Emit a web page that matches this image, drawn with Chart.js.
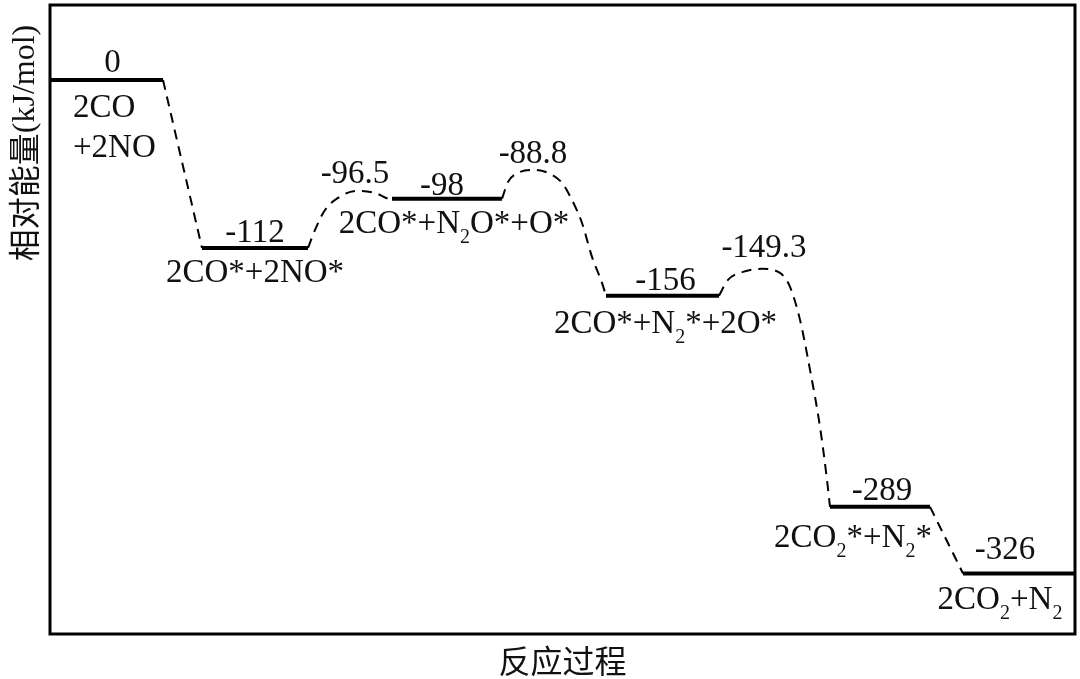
<!DOCTYPE html>
<html>
<head>
<meta charset="utf-8">
<script src="https://cdn.jsdelivr.net/npm/chart.js@4/dist/chart.umd.min.js"></script>
<style>
  html, body { margin: 0; padding: 0; background: #fff; }
  #wrap { width: 1080px; height: 679px; }
</style>
</head>
<body>
<div id="wrap"><canvas id="profile"></canvas></div>
<script>
// intermediates: label, relative energy (kJ/mol), and the height each level is drawn at
const stateNames = ["2CO|+2NO", "2CO*+2NO*", "2CO*+N_2O*+O*", "2CO*+N_2*+2O*", "2CO_2*+N_2*", "2CO_2+N_2"];
const stateEnergy = [0, -112, -98, -156, -289, -326];
const stateLevel = [0, -111, -78.5, -142.5, -282, -326];
// reaction coordinate where each level starts / ends
const stateStart = [0, 1.52, 3.42, 5.56, 7.8, 9.13];
const stateEnd = [1.13, 2.58, 4.52, 6.69, 8.8, 10.25];

// transition states between state i and i+1 (null = plain dashed link)
const tsEnergy = [null, -96.5, -88.8, -149.3, null];
// points (between the two levels)
const ts1X = [2.65, 2.75, 2.88, 3.07, 3.25, 3.4];
const ts1Y = [-99.1, -85.9, -77.9, -73.3, -74.6, -78.6];
const ts2X = [4.58, 4.68, 4.83, 4.98, 5.12, 5.22, 5.32, 5.42, 5.52];
const ts2Y = [-67.4, -61.4, -59.4, -61.4, -68, -79.3, -94.5, -116.9, -134.1];
const ts3X = [6.78, 6.93, 7.12, 7.3, 7.4, 7.5, 7.6, 7.7, 7.77];
const ts3Y = [-132.1, -126.8, -124.8, -127.5, -136.7, -158.5, -191.5, -229.2, -264.2];
const tsPathX = [[], ts1X, ts2X, ts3X, []];
const tsPathY = [[], ts1Y, ts2Y, ts3Y, []];

const serif = '"Liberation Serif", "Times New Roman", serif';
const cjk = '"Noto Sans CJK SC", "Noto Sans", sans-serif';
const ink = "#111";

const datasets = [];
stateLevel.forEach((lv, i) => {
  datasets.push({
    data: [{ x: stateStart[i], y: lv }, { x: stateEnd[i], y: lv }],
    borderColor: "#000",
    borderWidth: 4,
    pointRadius: 0,
  });
});
tsEnergy.forEach((e, i) => {
  const pts = [{ x: stateEnd[i], y: stateLevel[i] }];
  tsPathX[i].forEach((vx, k) => pts.push({ x: vx, y: tsPathY[i][k] }));
  pts.push({ x: stateStart[i + 1], y: stateLevel[i + 1] });
  datasets.push({
    data: pts,
    borderColor: "#000",
    borderWidth: 2,
    borderDash: [10, 7],
    pointRadius: 0,
    cubicInterpolationMode: "monotone",
  });
});

// small per-label nudges so text sits where the original has it
const topNudge = { dx: [6, 0, -5, 3, 2, -14], dy: [8, 6, 4, 6, 7, 14] };
const botNudge = { dx: [0, 0, 7, 3, -27, -19], dy: [37, 34, 34, 37, 40, 36] };
const tsNudge = { dx: [0, -2, 0, 2, 0], dy: [0, 8, 7, 12, 0] };

function drawRich(ctx, text, x, y, align) {
  const segs = text.split(/(_\d)/).filter(Boolean).map((p) => {
    const sub = p.startsWith("_");
    const t = sub ? p.slice(1) : p;
    ctx.font = sub ? `20px ${serif}` : `33px ${serif}`;
    return { t, sub, w: ctx.measureText(t).width };
  });
  const total = segs.reduce((a, s) => a + s.w, 0);
  let cx = align === "left" ? x : x - total / 2;
  segs.forEach((s) => {
    ctx.font = s.sub ? `20px ${serif}` : `33px ${serif}`;
    ctx.fillText(s.t, cx, s.sub ? y + 10 : y);
    cx += s.w;
  });
}

const annotations = {
  id: "annotations",
  afterDatasetsDraw(chart) {
    const { ctx, chartArea: a, scales: { x, y } } = chart;
    ctx.save();
    ctx.fillStyle = ink;
    ctx.textAlign = "left";
    ctx.textBaseline = "alphabetic";

    stateEnergy.forEach((e, i) => {
      const mid = x.getPixelForValue((stateStart[i] + stateEnd[i]) / 2);
      const py = y.getPixelForValue(stateLevel[i]);
      drawRich(ctx, String(e), mid + topNudge.dx[i], py - topNudge.dy[i], "center");
      const name = stateNames[i];
      if (name.includes("|")) {
        name.split("|").forEach((line, k) => {
          drawRich(ctx, line, a.left + 23, py + botNudge.dy[i] + k * 40, "left");
        });
      } else {
        drawRich(ctx, name, mid + botNudge.dx[i], py + botNudge.dy[i], "center");
      }
    });

    // energy of each transition state, over the top of its curve
    tsEnergy.forEach((e, i) => {
      if (e === null) return;
      const top = Math.max(...tsPathY[i]);
      const k = tsPathY[i].indexOf(top);
      const px = x.getPixelForValue(tsPathX[i][k]);
      const py = y.getPixelForValue(top);
      drawRich(ctx, String(e), px + tsNudge.dx[i], py - tsNudge.dy[i], "center");
    });

    // frame
    ctx.strokeStyle = "#000";
    ctx.lineWidth = 3;
    ctx.strokeRect(a.left, a.top, a.right - a.left, a.bottom - a.top);

    // axis titles
    ctx.textBaseline = "middle";
    ctx.font = `32px ${cjk}`;
    ctx.textAlign = "center";
    ctx.fillText("反应过程", (a.left + a.right) / 2, 661);

    ctx.save();
    ctx.translate(24, 143);
    ctx.rotate(-Math.PI / 2);
    ctx.textAlign = "left";
    ctx.font = `32px ${cjk}`;
    const zh = "相对能量";
    const zw = ctx.measureText(zh).width;
    ctx.font = `32px ${serif}`;
    const unit = "(kJ/mol)";
    const uw = ctx.measureText(unit).width;
    const start = -(zw + uw) / 2;
    ctx.font = `32px ${cjk}`;
    ctx.fillText(zh, start, 0);
    ctx.font = `32px ${serif}`;
    ctx.fillText(unit, start + zw, 2);
    ctx.restore();

    ctx.restore();
  },
};

new Chart(document.getElementById("profile"), {
  type: "line",
  data: { datasets },
  options: {
    responsive: true,
    maintainAspectRatio: false,
    animation: false,
    layout: { padding: { left: 50, right: 5, top: 5, bottom: 45 } },
    plugins: { legend: { display: false }, tooltip: { enabled: false } },
    scales: {
      x: { type: "linear", min: 0, max: 10.25, display: false },
      y: { type: "linear", min: -366, max: 49.5, display: false },
    },
  },
  plugins: [annotations],
});
</script>
</body>
</html>
